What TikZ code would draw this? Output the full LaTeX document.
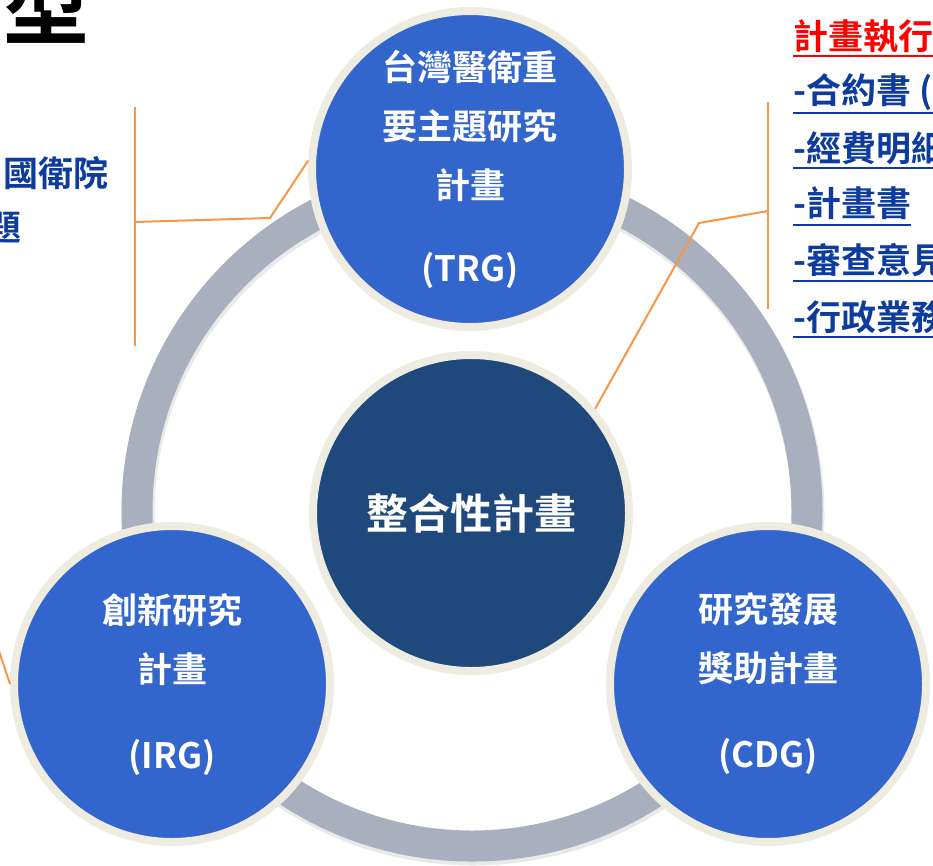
\documentclass[tikz,border=0pt]{standalone}
\usepackage{fontspec}
\setmainfont{Noto Sans CJK TC}[BoldFont={Noto Sans CJK TC Bold}]
\usetikzlibrary{shadows}

\definecolor{ringgray}{HTML}{A9AFBD}
\definecolor{planblue}{HTML}{3366CC}
\definecolor{coreblue}{HTML}{1F497D}
\definecolor{rimbeige}{HTML}{EEECE1}
\definecolor{linkorange}{HTML}{F79646}
\definecolor{noteblue}{HTML}{0D3B9E}

\tikzset{
    plan/.style={circle, fill=planblue, draw=rimbeige, line width=8pt, minimum size=316pt,
        inner sep=0pt, align=center, text=white, font=\bfseries\fontsize{35}{59}\selectfont,
        drop shadow={opacity=0.25, shadow xshift=1pt, shadow yshift=-3pt}},
    core/.style={plan, fill=coreblue, font=\bfseries\fontsize{42}{50}\selectfont},
    link/.style={draw=linkorange, line width=2pt},
    note/.style={anchor=west, inner sep=0pt, text=noteblue, font=\bfseries\fontsize{35}{40}\selectfont},
    noteline/.style={line width=2.5pt},
}

\begin{document}
\begin{tikzpicture}[x=1pt, y=-1pt]

    \useasboundingbox (0,0) rectangle (933,865);
    \clip (0,0) rectangle (933,865);

    % title
    \node[anchor=base, inner sep=0pt, font=\bfseries\fontsize{86}{86}\selectfont] (title) at (47,38) {型};

    % ring behind the circles
    \draw[ringgray!60!black, opacity=0.15, line width=33pt] (473,514) circle (335pt);
    \draw[ringgray, line width=31pt] (472,511) circle (335pt);

    \node[core] (igp) at (471,513) {整合性計畫};
    \node[plan] (trg) at (470,169) {台灣醫衛重\\要主題研究\\計畫\\[24pt](TRG)};
    \node[plan] (irg) at (172,684) {創新研究\\計畫\\[27pt](IRG)};
    \node[plan] (cdg) at (768,684) {研究發展\\獎助計畫\\[27pt](CDG)};

    % left notes
    \node[note] (nhri) at (3,173) {國衛院};
    \node[note, anchor=east] (topic) at (22,227) {主題};

    % right notes
    \node[note, text=red] (exec) at (793,36) {計畫執行};
    \node[note] (contract) at (793,92) {-合約書 (};
    \node[note] (budget) at (793,148) {-經費明細};
    \node[note] (proposal) at (793,203) {-計畫書};
    \node[note] (review) at (793,260) {-審查意見};
    \node[note] (admin) at (793,317) {-行政業務};

    \draw[noteline, red] (793,56) -- (exec.south east |- 0,56);
    \draw[noteline, noteblue] (793,113) -- (contract.south east |- 0,113);
    \draw[noteline, noteblue] (793,168) -- (budget.south east |- 0,168);
    \draw[noteline, noteblue] (793,225) -- (proposal.south east |- 0,225);
    \draw[noteline, noteblue] (793,281) -- (review.south east |- 0,281);
    \draw[noteline, noteblue] (793,337) -- (admin.south east |- 0,337);

    % brackets and leaders
    \coordinate (lbt) at (135,107);
    \coordinate (lbb) at (135,346);
    \coordinate (lbm) at (135,222);
    \coordinate (lbk) at (270,218);
    \draw[link] (lbt) -- (lbb);
    \draw[link] (lbm) -- (lbk) -- (trg.177);

    \coordinate (rbt) at (768,102);
    \coordinate (rbb) at (768,309);
    \coordinate (rbm) at (768,211);
    \coordinate (rbk) at (699,223);
    \draw[link] (rbt) -- (rbb);
    \draw[link] (rbm) -- (rbk) -- (igp.40);

    \coordinate (lfe) at (-2,648);
    \draw[link] (lfe) -- (irg.west);

\end{tikzpicture}
\end{document}
